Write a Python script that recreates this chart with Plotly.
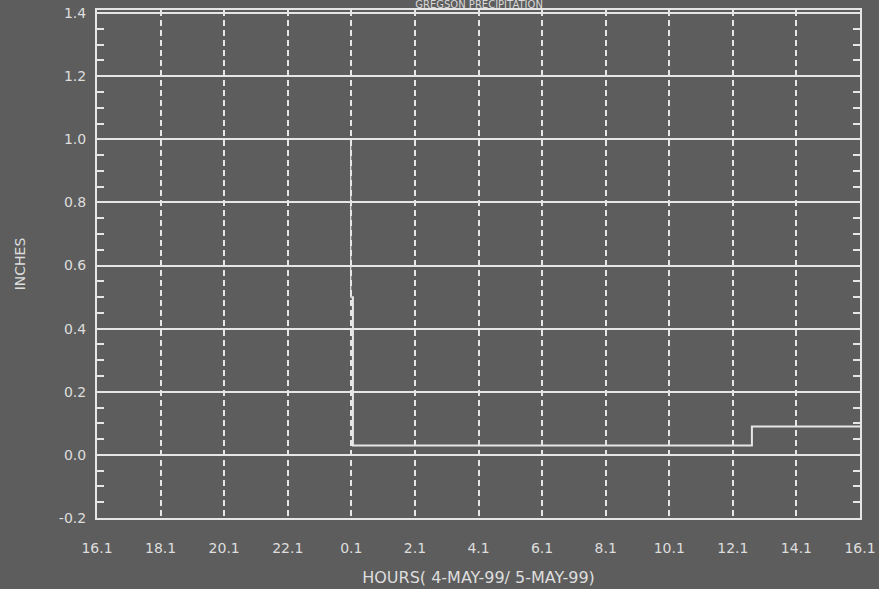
import plotly.graph_objects as go

# Hours elapsed since 16:06 on 4 May 1999 and cumulative gauge depth (inches)
hours = [7.98, 7.98, 8.05, 8.05, 20.6, 20.6, 24.0]
inches = [1.0, 0.5, 0.5, 0.03, 0.03, 0.09, 0.09]

tick_hours = list(range(0, 25, 2))
tick_labels = ["16.1", "18.1", "20.1", "22.1", "0.1", "2.1", "4.1",
               "6.1", "8.1", "10.1", "12.1", "14.1", "16.1"]
y_ticks = [-0.2, 0.0, 0.2, 0.4, 0.6, 0.8, 1.0, 1.2, 1.4]
y_labels = ["-0.2", "0.0", "0.2", "0.4", "0.6", "0.8", "1.0", "1.2", "1.4"]

bg = "#5d5d5d"
fg = "#e6e6e6"
font = dict(family="DejaVu Sans", size=14, color="#dedede")

fig = go.Figure()

# thin upper part of the spike, then the gauge trace itself
fig.add_trace(go.Scatter(x=hours[:2], y=inches[:2], mode="lines",
                         line=dict(color=fg, width=1.2), hoverinfo="skip"))
fig.add_trace(go.Scatter(x=hours[1:], y=inches[1:], mode="lines",
                         line=dict(color=fg, width=2), hoverinfo="skip"))

fig.update_layout(
    width=879, height=589,
    margin=dict(l=97, r=19, t=10, b=71, autoexpand=False),
    paper_bgcolor=bg, plot_bgcolor=bg,
    showlegend=False,
    font=font,
    title=dict(text="GREGSON PRECIPITATION", x=0.545, xanchor="center",
               y=0.999, yanchor="top", yref="container",
               font=dict(family="DejaVu Sans", size=10, color="#d8d8d8")),
    xaxis=dict(
        range=[0, 24], tickmode="array", tickvals=tick_hours, ticktext=tick_labels,
        showgrid=True, gridcolor=fg, gridwidth=1.5, griddash="6px,4px",
        zeroline=False, showline=True, linecolor=fg, linewidth=2, mirror=True,
        ticks="", ticklabelstandoff=16, automargin=False,
        title=dict(text="HOURS( 4-MAY-99/ 5-MAY-99)", standoff=17,
                   font=dict(family="DejaVu Sans", size=16, color="#dedede")),
    ),
    yaxis=dict(
        range=[-0.2, 1.41], tickmode="array", tickvals=y_ticks, ticktext=y_labels,
        showgrid=True, gridcolor=fg, gridwidth=2,
        zeroline=False, showline=True, linecolor=fg, linewidth=2, mirror="ticks",
        ticks="inside", ticklen=0, tickcolor=fg, ticklabelstandoff=6,
        automargin=False,
        minor=dict(dtick=0.05, tick0=0, ticks="inside", ticklen=7,
                   tickcolor=fg, tickwidth=2, showgrid=False),
        title=dict(text="INCHES", standoff=30,
                   font=dict(family="DejaVu Sans", size=14, color="#dedede")),
    ),
)

fig.write_html("out.html")
